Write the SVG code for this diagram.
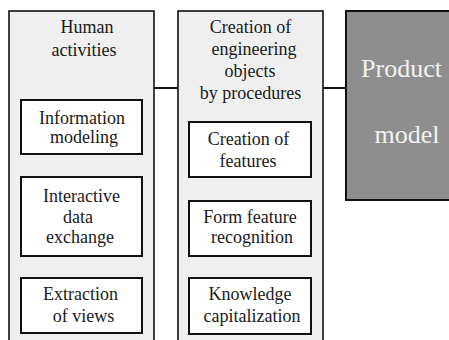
<svg xmlns="http://www.w3.org/2000/svg" width="449" height="340" viewBox="0 0 449 340" font-family="Liberation Serif, serif">
<style>
.col{fill:#efefef;stroke:#111;stroke-width:1.6}
.box{fill:#fff;stroke:#111;stroke-width:2}
.prod{fill:#8e8e8e;stroke:#111;stroke-width:2}
text{font-family:'Liberation Serif',serif;font-size:18px;fill:#1a1a1a;text-anchor:middle}
.pt{font-size:26px;fill:#f2f2f2}
.conn{stroke:#111;stroke-width:2;fill:none}
</style>
<rect width="449" height="340" fill="#fff"/>
<g id="connectors">
<line class="conn" x1="154" y1="88" x2="178" y2="88"/>
<line class="conn" x1="323" y1="88" x2="346" y2="88"/>
</g>
<g id="human-activities">
<rect class="col" x="9" y="11" width="145" height="335"/>
<text x="87" y="33">Human</text>
<text x="84" y="56">activities</text>
</g>
<g id="information-modeling">
<rect class="box" x="21" y="100" width="121" height="54"/>
<text x="82" y="124">Information</text>
<text x="84" y="143">modeling</text>
</g>
<g id="interactive-data-exchange">
<rect class="box" x="21" y="177" width="121" height="79"/>
<text x="81.5" y="202">Interactive</text>
<text x="78" y="223">data</text>
<text x="80" y="243">exchange</text>
</g>
<g id="extraction-of-views">
<rect class="box" x="21" y="278" width="121" height="55"/>
<text x="80.5" y="300">Extraction</text>
<text x="83.5" y="322">of views</text>
</g>
<g id="creation-procedures">
<rect class="col" x="178" y="11" width="145" height="335"/>
<text x="250.5" y="33">Creation of</text>
<text x="254" y="55">engineering</text>
<text x="250" y="77">objects</text>
<text x="250.5" y="99">by procedures</text>
</g>
<g id="creation-of-features">
<rect class="box" x="189" y="122" width="122" height="55"/>
<text x="248.5" y="145">Creation of</text>
<text x="248" y="167">features</text>
</g>
<g id="form-feature-recognition">
<rect class="box" x="189" y="201" width="122" height="55"/>
<text x="250" y="223">Form feature</text>
<text x="252" y="243">recognition</text>
</g>
<g id="knowledge-capitalization">
<rect class="box" x="189" y="278" width="122" height="56"/>
<text x="250" y="300">Knowledge</text>
<text x="252" y="322">capitalization</text>
</g>
<g id="product-model">
<rect class="prod" x="346" y="11" width="110" height="189"/>
<text class="pt" x="401.5" y="77">Product</text>
<text class="pt" x="407" y="143">model</text>
</g>
</svg>
